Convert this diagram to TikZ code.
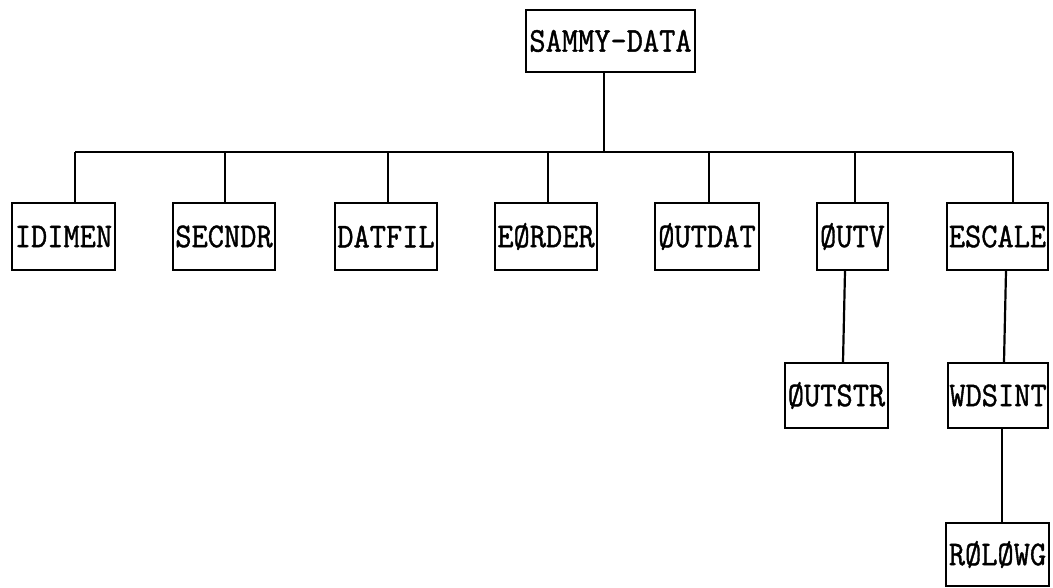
\documentclass[tikz,border=0pt]{standalone}
\usepackage{fontspec}
\usepackage{graphicx}
\newfontfamily\lpfont[FakeBold=1.2]{Latin Modern Mono}
\newcommand\boxtxt[1]{\scalebox{1}[1.1]{#1}}
\tikzset{
  mod/.style={draw, line width=2.2pt, rectangle, inner sep=0pt, minimum height=67pt,
    font=\lpfont\fontsize{31.5}{35}\selectfont},
  wire/.style={line width=2.2pt}
}
\begin{document}
\begin{tikzpicture}[x=1pt,y=-1pt]
\useasboundingbox (0,0) rectangle (1053,587);
\node[mod, minimum width=169pt, minimum height=62pt] (sammy) at (610.5,41) {\boxtxt{SAMMY-DATA}};
\node[mod, minimum width=103pt] (idimen) at (63.5,236.5) {\boxtxt{IDIMEN}};
\node[mod, minimum width=102pt] (secndr) at (224,236.5) {\boxtxt{SECNDR}};
\node[mod, minimum width=102pt] (datfil) at (386,236.5) {\boxtxt{DATFIL}};
\node[mod, minimum width=102pt] (eorder) at (546,236.5) {\boxtxt{EØRDER}};
\node[mod, minimum width=104pt] (outdat) at (707,236.5) {\boxtxt{ØUTDAT}};
\node[mod, minimum width=71pt] (outv) at (852.5,236.5) {\boxtxt{ØUTV}};
\node[mod, minimum width=101pt] (escale) at (997.5,236.5) {\boxtxt{ESCALE}};
\node[mod, minimum width=103pt, minimum height=65pt] (outstr) at (836.5,395.5) {\boxtxt{ØUTSTR}};
\node[mod, minimum width=100pt, minimum height=65pt] (wdsint) at (998,395.5) {\boxtxt{WDSINT}};
\node[mod, minimum width=103pt, minimum height=63pt] (rolowg) at (997.5,554.5) {\boxtxt{RØLØWG}};
\coordinate (busL) at (75,152);
\coordinate (busR) at (1013,152);
\draw[wire] (busL) -- (busR);
\draw[wire] ([xshift=-6.5pt]sammy.south) -- ([xshift=-6.5pt]sammy.south |- busL);
\draw[wire] ([xshift=11.5pt]idimen.north) -- ([xshift=11.5pt]idimen.north |- busL);
\draw[wire] ([xshift=1pt]secndr.north) -- ([xshift=1pt]secndr.north |- busL);
\draw[wire] ([xshift=2pt]datfil.north) -- ([xshift=2pt]datfil.north |- busL);
\draw[wire] ([xshift=2pt]eorder.north) -- ([xshift=2pt]eorder.north |- busL);
\draw[wire] ([xshift=2pt]outdat.north) -- ([xshift=2pt]outdat.north |- busL);
\draw[wire] ([xshift=2.5pt]outv.north) -- ([xshift=2.5pt]outv.north |- busL);
\draw[wire] ([xshift=15.5pt]escale.north) -- ([xshift=15.5pt]escale.north |- busL);
\draw[wire] ([xshift=-7.5pt]outv.south) -- ([xshift=6.5pt]outstr.north);
\draw[wire] ([xshift=8.5pt]escale.south) -- ([xshift=6pt]wdsint.north);
\draw[wire] ([xshift=4pt]wdsint.south) -- ([xshift=4.5pt]rolowg.north);
\end{tikzpicture}
\end{document}
